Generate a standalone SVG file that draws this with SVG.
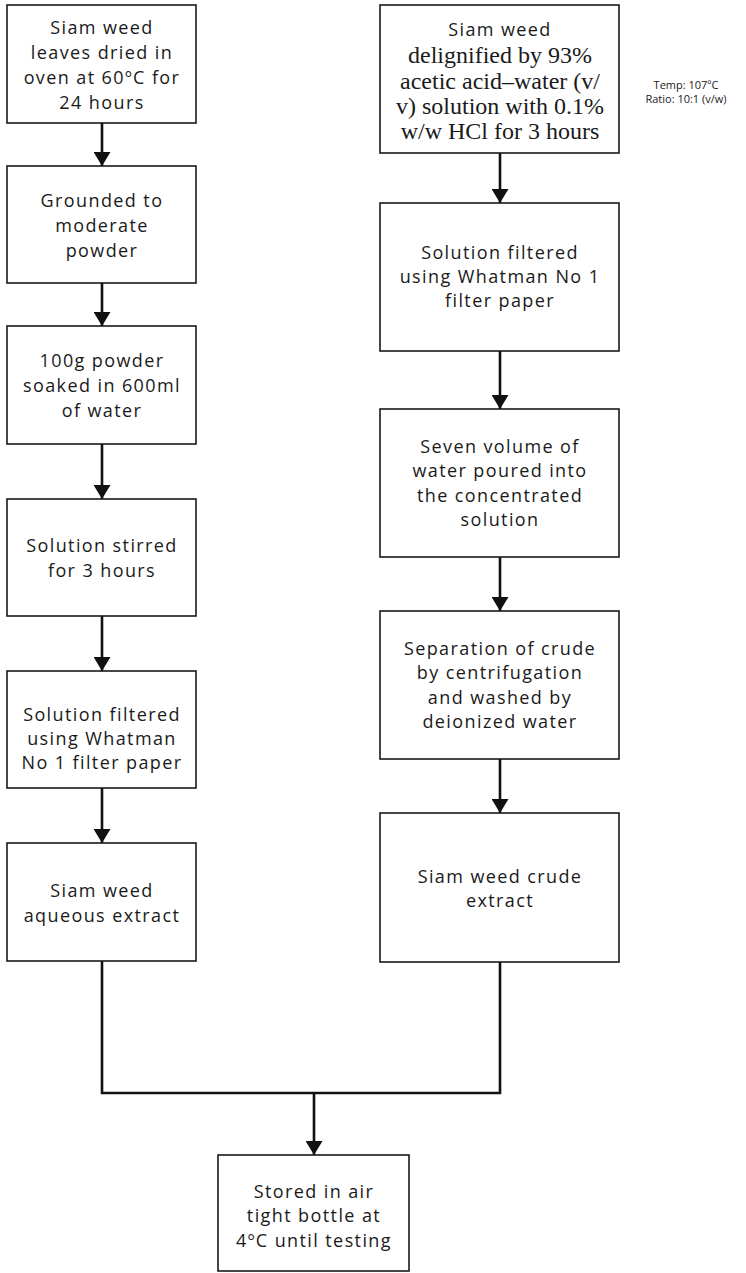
<svg xmlns="http://www.w3.org/2000/svg" width="746" height="1273" viewBox="0 0 746 1273">
<defs>
<style>
.box{fill:#fff;stroke:#1a1a1a;stroke-width:1.6}
.t{font-family:"Open Sans","Liberation Sans",sans-serif;font-size:18px;letter-spacing:1.4px;fill:#1a1a1a;text-anchor:middle}
.s{font-family:"Liberation Serif","Times New Roman",serif;font-size:24px;fill:#1a1a1a;text-anchor:middle}
.n{font-family:"Open Sans","Liberation Sans",sans-serif;font-size:11px;fill:#1a1a1a;text-anchor:middle}
.c{fill:none;stroke:#111;stroke-width:2.6}
</style>
<marker id="ah" markerUnits="userSpaceOnUse" markerWidth="14" markerHeight="17" refX="14" refY="8.5" orient="auto" viewBox="0 0 14 17"><path d="M0,0 L14,8.5 L0,17 z" fill="#111"/></marker>
</defs>
<rect width="746" height="1273" fill="#fff"/>
<g id="connectors">
<line class="c" x1="102" y1="123" x2="102" y2="166" marker-end="url(#ah)"/>
<line class="c" x1="102" y1="283" x2="102" y2="326" marker-end="url(#ah)"/>
<line class="c" x1="102" y1="444" x2="102" y2="499" marker-end="url(#ah)"/>
<line class="c" x1="102" y1="616" x2="102" y2="671" marker-end="url(#ah)"/>
<line class="c" x1="102" y1="788" x2="102" y2="843" marker-end="url(#ah)"/>
<line class="c" x1="500" y1="153" x2="500" y2="203" marker-end="url(#ah)"/>
<line class="c" x1="500" y1="351" x2="500" y2="409" marker-end="url(#ah)"/>
<line class="c" x1="500" y1="557" x2="500" y2="611" marker-end="url(#ah)"/>
<line class="c" x1="500" y1="759" x2="500" y2="813" marker-end="url(#ah)"/>
<polyline class="c" points="102,961 102,1093 500,1093 500,962"/>
<line class="c" x1="314" y1="1093" x2="314" y2="1155" marker-end="url(#ah)"/>
</g>
<g id="n1"><rect class="box" x="7" y="5" width="189" height="118"/>
<text class="t" x="102" y="34">Siam weed</text><text class="t" x="102" y="59">leaves dried  in</text><text class="t" x="102" y="84">oven at 60ºC for</text><text class="t" x="102" y="109">24 hours</text></g>
<g id="n2"><rect class="box" x="7" y="166" width="189" height="117"/>
<text class="t" x="102" y="207">Grounded to</text><text class="t" x="102" y="232">moderate</text><text class="t" x="102" y="257">powder</text></g>
<g id="n3"><rect class="box" x="7" y="326" width="189" height="118"/>
<text class="t" x="102" y="367">100g powder</text><text class="t" x="102" y="392">soaked in 600ml</text><text class="t" x="102" y="417">of water</text></g>
<g id="n4"><rect class="box" x="7" y="499" width="189" height="117"/>
<text class="t" x="102" y="552">Solution stirred</text><text class="t" x="102" y="577">for 3 hours</text></g>
<g id="n5"><rect class="box" x="7" y="671" width="189" height="117"/>
<text class="t" x="102" y="721">Solution filtered</text><text class="t" x="102" y="745">using Whatman</text><text class="t" x="102" y="769">No 1 filter paper</text></g>
<g id="n6"><rect class="box" x="7" y="843" width="189" height="118"/>
<text class="t" x="102" y="897">Siam weed</text><text class="t" x="102" y="922">aqueous extract</text></g>
<g id="r1"><rect class="box" x="380" y="5" width="239" height="148"/>
<text class="t" x="500" y="36">Siam weed</text><text class="s" x="500" y="63">delignified by 93%</text><text class="s" x="500" y="89">acetic acid–water (v/</text><text class="s" x="500" y="114">v) solution with 0.1%</text><text class="s" x="500" y="139">w/w HCl for 3 hours</text></g>
<g id="note"><text class="n" x="686" y="89">Temp: 107ºC</text><text class="n" x="686" y="103">Ratio: 10:1 (v/w)</text></g>
<g id="r2"><rect class="box" x="380" y="203" width="239" height="148"/>
<text class="t" x="500" y="259">Solution filtered</text><text class="t" x="500" y="283">using Whatman No 1</text><text class="t" x="500" y="307">filter paper</text></g>
<g id="r3"><rect class="box" x="380" y="409" width="239" height="148"/>
<text class="t" x="500" y="453">Seven volume of</text><text class="t" x="500" y="477">water poured into</text><text class="t" x="500" y="502">the concentrated</text><text class="t" x="500" y="526">solution</text></g>
<g id="r4"><rect class="box" x="380" y="611" width="239" height="148"/>
<text class="t" x="500" y="655">Separation of crude</text><text class="t" x="500" y="679">by centrifugation</text><text class="t" x="500" y="704">and washed by</text><text class="t" x="500" y="728">deionized water</text></g>
<g id="r5"><rect class="box" x="380" y="813" width="239" height="149"/>
<text class="t" x="500" y="883">Siam weed crude</text><text class="t" x="500" y="907">extract</text></g>
<g id="final"><rect class="box" x="218" y="1155" width="191" height="116"/>
<text class="t" x="314" y="1198">Stored in air</text><text class="t" x="314" y="1222">tight bottle at</text><text class="t" x="314" y="1247">4ºC until testing</text></g>
</svg>
